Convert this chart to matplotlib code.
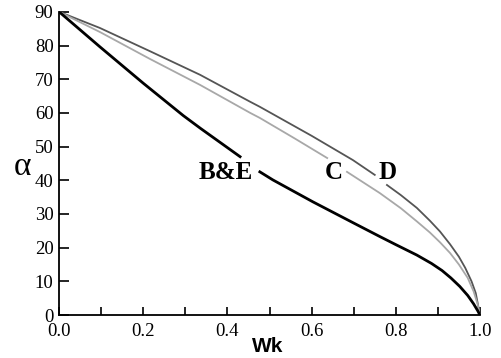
import numpy as np
import matplotlib
matplotlib.use("Agg")
import matplotlib.pyplot as plt
from matplotlib.ticker import MultipleLocator

# curve B&E (black), split where the label sits
be_wk_a = [0.0, 0.097, 0.2, 0.295, 0.336, 0.43]
be_al_a = [90.0, 79.6, 68.8, 59.2, 55.4, 47.0]
be_wk_b = [0.477, 0.508, 0.603, 0.70, 0.762, 0.80, 0.85, 0.885, 0.91, 0.931,
           0.952, 0.971, 0.985, 0.995, 1.0]
be_al_b = [42.5, 40.1, 33.6, 27.3, 23.3, 20.9, 17.8, 15.3, 13.2, 11.0,
           8.5, 5.8, 3.3, 1.2, 0.0]

# curve C (light grey)
c_wk_a = [0.0, 0.097, 0.216, 0.335, 0.454, 0.477, 0.56, 0.637]
c_al_a = [90.0, 84.0, 76.0, 68.3, 60.0, 58.5, 52.4, 46.6]
c_wk_b = [0.684, 0.762, 0.812, 0.85, 0.881, 0.905, 0.929, 0.95, 0.971, 0.985, 0.995, 1.0]
c_al_b = [42.5, 36.2, 31.7, 27.8, 24.5, 21.6, 18.4, 15.0, 11.0, 7.0, 3.0, 0.0]

# curve D (dark grey)
d_wk_a = [0.0, 0.097, 0.216, 0.335, 0.454, 0.477, 0.60, 0.698, 0.75]
d_al_a = [90.0, 85.2, 78.3, 71.3, 63.3, 61.8, 53.2, 46.0, 41.6]
d_wk_b = [0.779, 0.812, 0.85, 0.881, 0.905, 0.929, 0.95, 0.965, 0.98, 0.99, 1.0]
d_al_b = [38.6, 35.6, 31.8, 28.0, 24.8, 21.0, 17.3, 14.0, 10.0, 6.5, 0.0]

labels = ["B&E", "C", "D"]
label_wk = [0.397, 0.653, 0.781]
label_al = [42.2, 42.2, 42.2]

x_ticks = [0.0, 0.2, 0.4, 0.6, 0.8, 1.0]
y_ticks = [0, 10, 20, 30, 40, 50, 60, 70, 80, 90]

serif = ["Liberation Serif", "DejaVu Serif"]

fig = plt.figure(figsize=(5.01, 3.58), dpi=100)
ax = fig.add_axes([0.118, 0.12, 0.840, 0.847])

ax.plot(d_wk_a, d_al_a, color="#555555", lw=1.3)
ax.plot(d_wk_b, d_al_b, color="#555555", lw=1.3)
ax.plot(c_wk_a, c_al_a, color="#a8a8a8", lw=1.3)
ax.plot(c_wk_b, c_al_b, color="#a8a8a8", lw=1.3)
ax.plot(be_wk_a, be_al_a, color="black", lw=2.0)
ax.plot(be_wk_b, be_al_b, color="black", lw=2.0)

for t, x, y in zip(labels, label_wk, label_al):
    ax.text(x, y, t, ha="center", va="center", fontsize=18,
            fontweight="bold", family=serif)

ax.set_xlim(0, 1.0)
ax.set_ylim(0, 90)
ax.set_xticks(x_ticks)
ax.set_xticklabels([f"{v:.1f}" for v in x_ticks])
ax.xaxis.set_minor_locator(MultipleLocator(0.1))
ax.set_yticks(y_ticks)

ax.tick_params(axis="x", which="both", direction="in", length=5.5, width=1.2, pad=6)
ax.tick_params(axis="y", direction="in", length=7, width=1.2, pad=4)
for lab in ax.get_xticklabels() + ax.get_yticklabels():
    lab.set_family(serif)
    lab.set_fontsize(13.5)

for s in ["top", "right"]:
    ax.spines[s].set_visible(False)
for s in ["left", "bottom"]:
    ax.spines[s].set_linewidth(1.3)

ax.set_xlabel("Wk", fontsize=15, fontweight="bold",
              family=["Liberation Sans", "DejaVu Sans"], va="center")
ax.xaxis.set_label_coords(0.495, -0.105)
ax.set_ylabel("α", fontsize=24, family=serif, rotation=0, va="center")
ax.yaxis.set_label_coords(-0.088, 0.49)

fig.savefig("out.png", dpi=100)
